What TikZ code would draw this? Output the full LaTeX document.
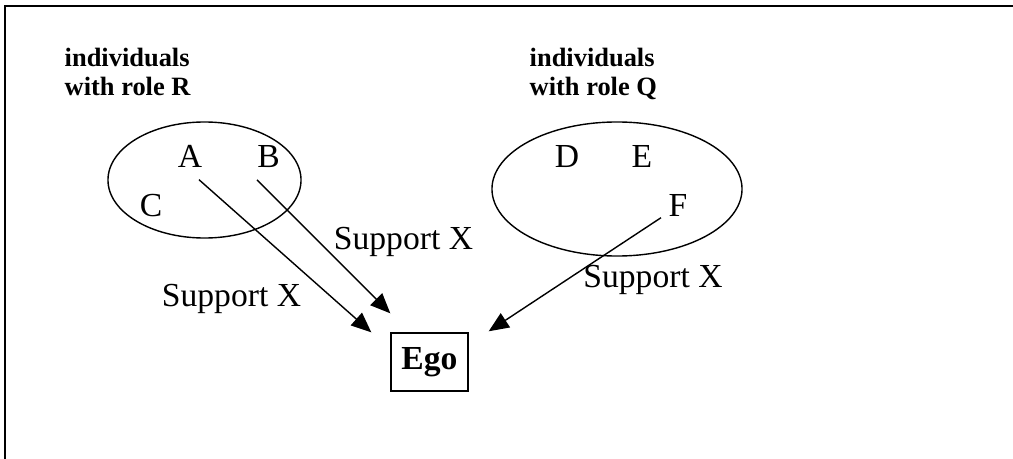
\documentclass[tikz,border=0pt]{standalone}
\usepackage{fontspec}
\setmainfont{Liberation Serif}
\usetikzlibrary{calc}
\usetikzlibrary{shapes}
\usetikzlibrary{arrows.meta}

\begin{document}
\begin{tikzpicture}[x=0.025cm,y=-0.025cm,->,>={Triangle[length=0.5cm,width=0.42cm]},line width=1pt,
	  group node/.style={ellipse,draw,inner sep=0pt},
	  member node/.style={inner sep=0pt,anchor=base,font=\fontsize{23.9}{28}\selectfont},
	  role node/.style={inner sep=0pt,anchor=north west,align=left,font=\fontsize{18.8}{21.3}\selectfont\bfseries}]

	 \useasboundingbox (0,0) rectangle (1013,459);
	 \draw[-,line width=1.6pt] (5,480) -- (5,6) -- (1030,6);

	 % the two groups of individuals
	 \node[role node] (rolr) at (64,47) {individuals\\with role R};
	 \node[role node] (rolq) at (529,47) {individuals\\with role Q};
	 \node[group node,minimum width=4.825cm,minimum height=2.9cm] (grpr) at (204.5,180) {};
	 \node[group node,minimum width=6.25cm,minimum height=3.35cm] (grpq) at (617,189) {};

	 \node[member node] (a) at ($ (grpr) + (-14.5,-12) $) {A};
	 \node[member node] (b) at ($ (grpr) + (64,-12) $) {B};
	 \node[member node] (c) at ($ (grpr) + (-53.5,37) $) {C};
	 \node[member node] (d) at ($ (grpq) + (-50,-21) $) {D};
	 \node[member node] (e) at ($ (grpq) + (25,-21) $) {E};
	 \node[member node] (f) at ($ (grpq) + (61,28) $) {F};

	 \node[draw,inner sep=0pt,minimum width=1.925cm,minimum height=1.45cm,
	       font=\fontsize{23.9}{28}\selectfont\bfseries] (ego) at (429.5,362) {Ego};

	 \node[member node] (sxb) at (403.5,249) {Support X};
	 \node[member node] (sxa) at (231.5,306) {Support X};
	 \node[member node] (sxf) at (653,287) {Support X};

	 % arrows end short of the box
	 \coordinate (a tail) at ($ (a.south) + (9,11) $);
	 \coordinate (b tail) at ($ (b.south) + (-11.5,11) $);
	 \coordinate (f tail) at ($ (f.south) + (-17,0) $);
	 \coordinate (a tip) at ($ (ego.north west) + (-19,0) $);
	 \coordinate (b tip) at ($ (ego.north west) + (0,-19) $);
	 \coordinate (f tip) at ($ (ego.north east) + (20,-1) $);
	 \path (a tail) edge (a tip)
	       (b tail) edge (b tip)
	       (f tail) edge (f tip)
;
\end{tikzpicture}
\end{document}
